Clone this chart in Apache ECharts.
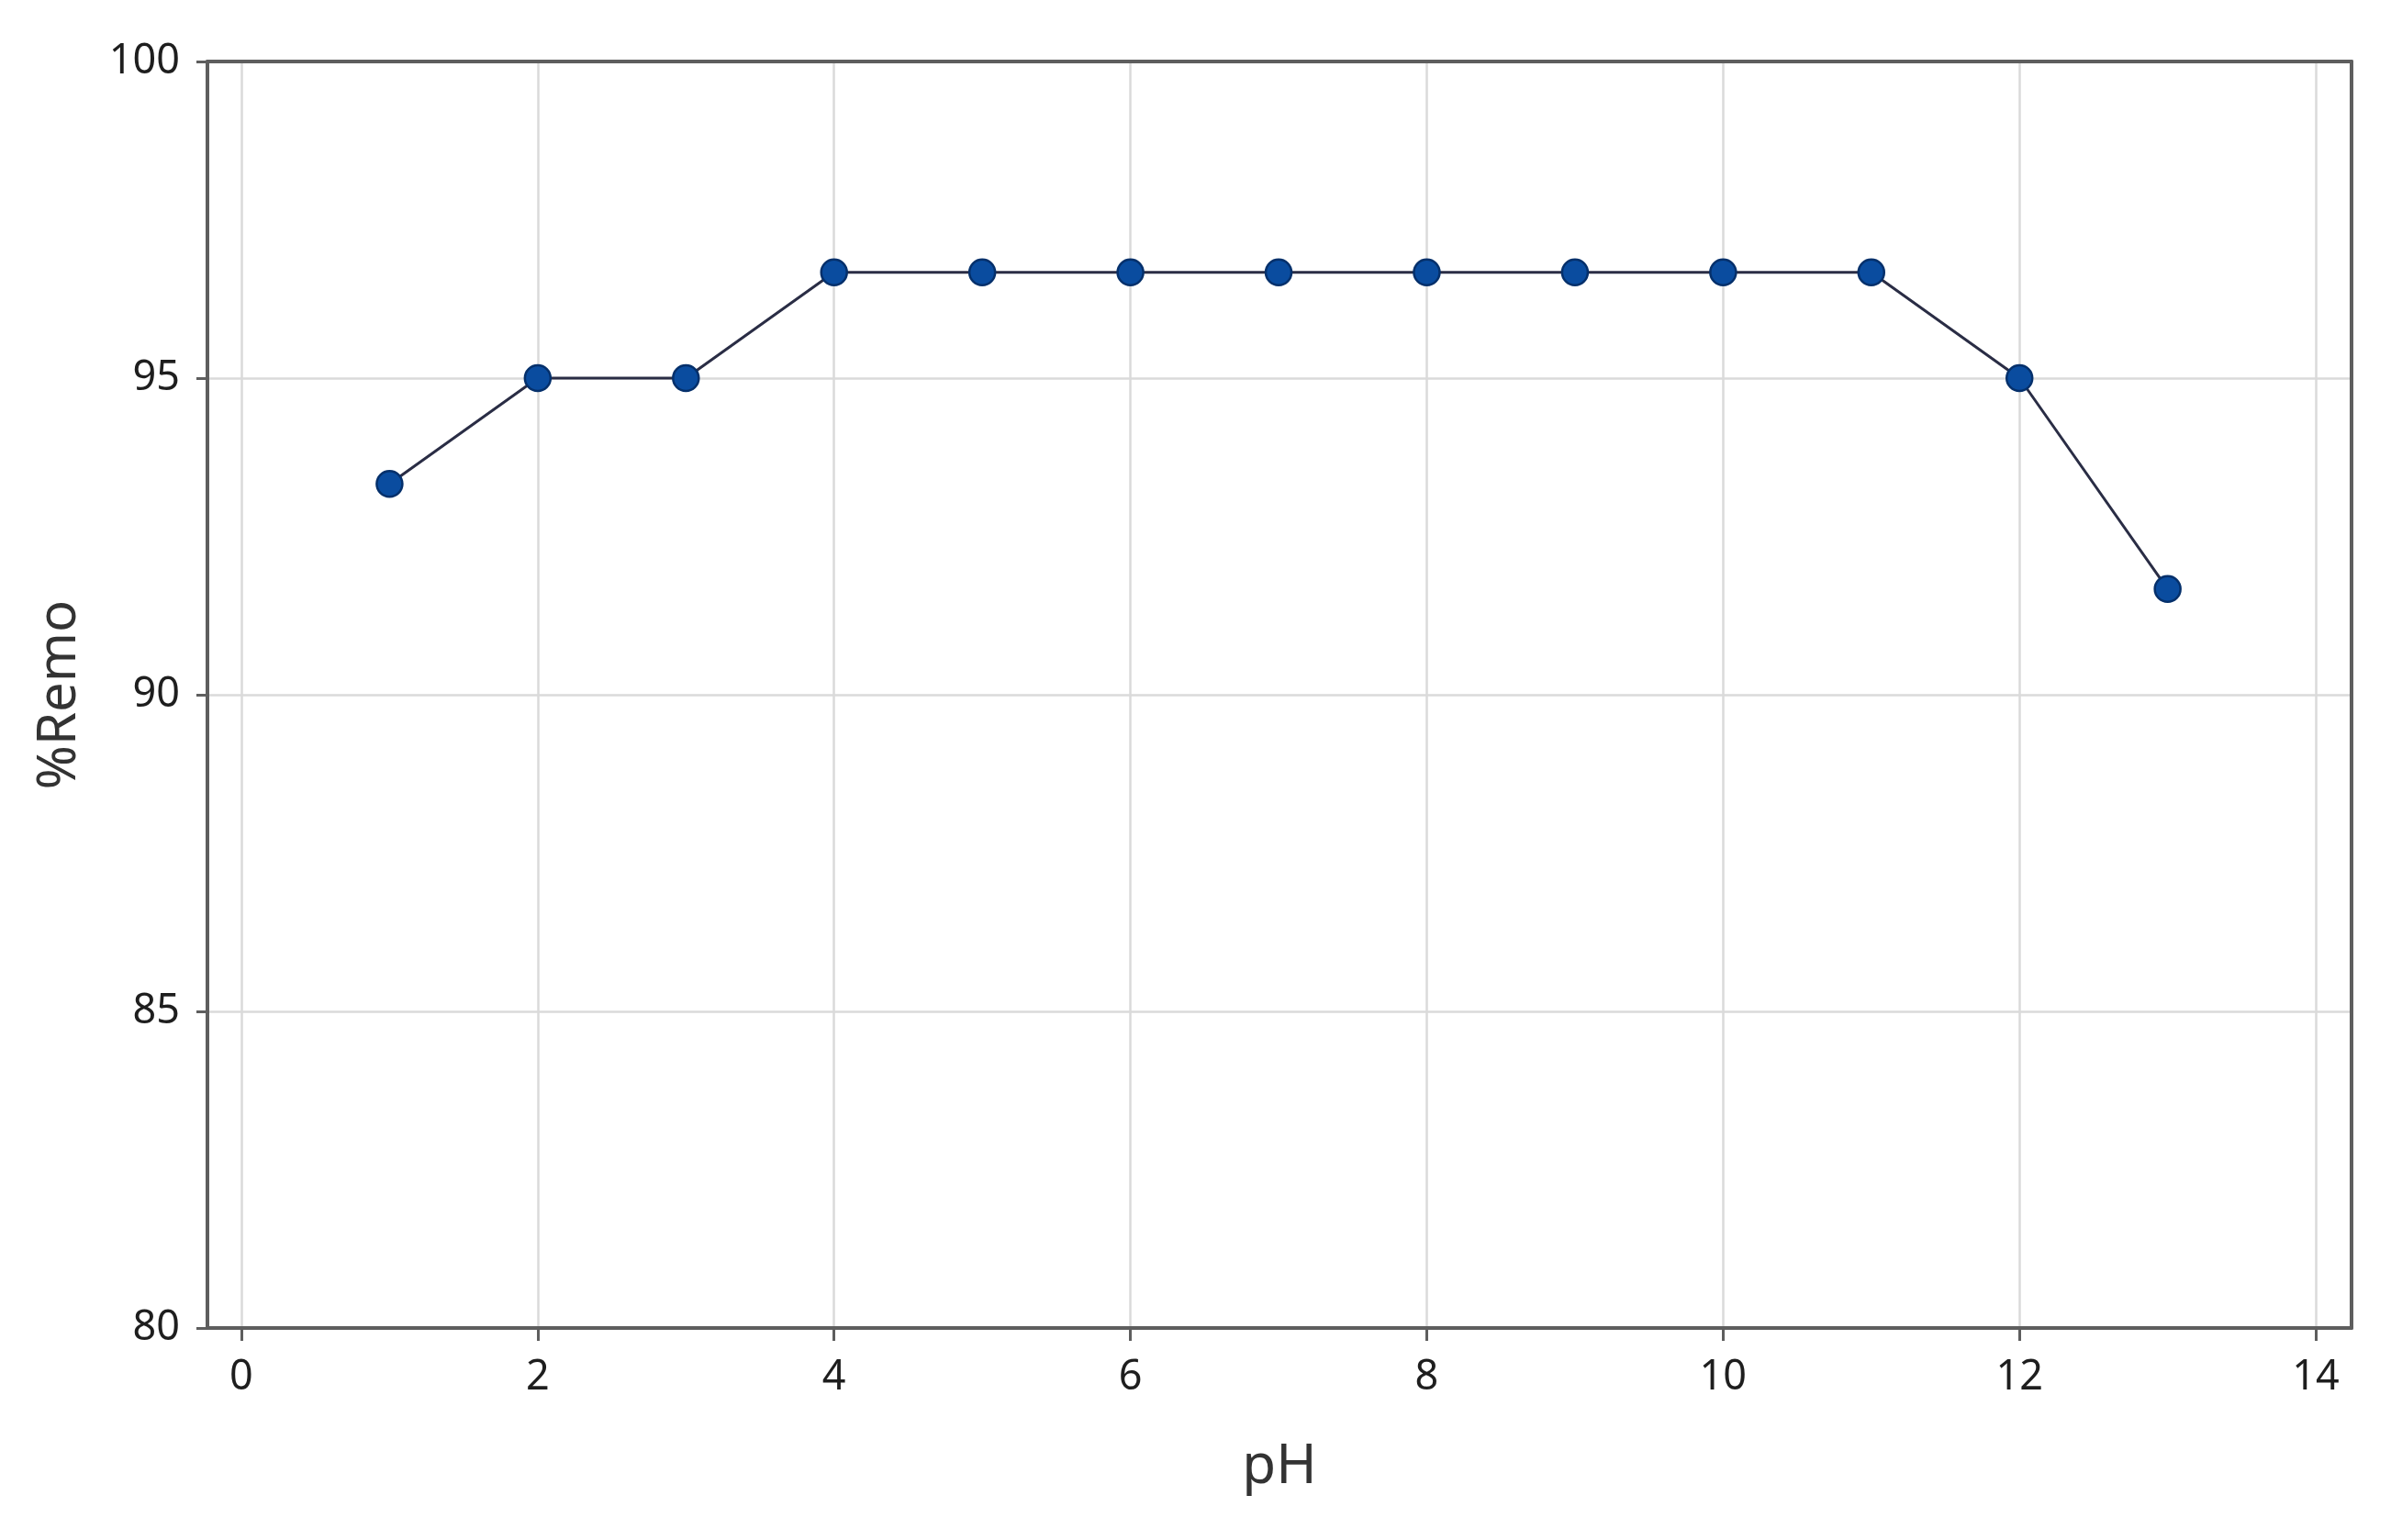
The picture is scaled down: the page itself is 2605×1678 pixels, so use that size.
<!DOCTYPE html>
<html>
<head>
<meta charset="utf-8">
<script src="https://cdn.jsdelivr.net/npm/echarts@6/dist/echarts.min.js"></script>
<style>
html,body{margin:0;padding:0;background:#fff;}
#chart{width:2605px;height:1678px;}
</style>
</head>
<body>
<div id="chart"></div>
<script>
const pH = [1, 2, 3, 4, 5, 6, 7, 8, 9, 10, 11, 12, 13];
const removal = [93.33, 95.0, 95.0, 96.67, 96.67, 96.67, 96.67, 96.67, 96.67, 96.67, 96.67, 95.0, 91.67];
const xTicks = [0, 2, 4, 6, 8, 10, 12, 14];
const yTicks = [80, 85, 90, 95, 100];

const chart = echarts.init(document.getElementById('chart'), null, {renderer: 'canvas'});
const FONT = '"Noto Sans", "Open Sans", sans-serif';
const FRAME = '#5e5e5e';
chart.setOption({
  backgroundColor: '#ffffff',
  animation: false,
  grid: {
    left: 226, right: 43, top: 67, bottom: 231,
    show: false
  },
  xAxis: [{
    type: 'value',
    min: -0.229, max: 14.241,
    name: 'pH',
    nameLocation: 'middle',
    nameGap: 122,
    nameTextStyle: {fontFamily: FONT, fontSize: 60, color: '#333'},
    axisLine: {show: true, onZero: false, lineStyle: {color: FRAME, width: 4}},
    axisTick: {show: true, length: 14, customValues: xTicks, lineStyle: {color: FRAME, width: 3}},
    axisLabel: {customValues: xTicks, margin: 32, fontFamily: FONT, fontSize: 45, color: '#1e1e1e'},
    splitLine: {show: true, lineStyle: {color: '#dadada', width: 2.5}}
  }, {
    type: 'value',
    position: 'top',
    min: -0.229, max: 14.241,
    axisLine: {show: true, onZero: false, lineStyle: {color: FRAME, width: 4}},
    axisTick: {show: false},
    axisLabel: {show: false},
    splitLine: {show: false}
  }],
  yAxis: [{
    type: 'value',
    min: 80, max: 100,
    name: '%Remo',
    nameLocation: 'middle',
    nameGap: 132,
    nameRotate: 90,
    nameTextStyle: {fontFamily: FONT, fontSize: 58, color: '#333'},
    axisLine: {show: true, onZero: false, lineStyle: {color: FRAME, width: 4}},
    axisTick: {show: true, length: 12, customValues: yTicks, lineStyle: {color: FRAME, width: 3}},
    axisLabel: {customValues: yTicks, margin: 30, fontFamily: FONT, fontSize: 45, color: '#1e1e1e'},
    splitLine: {show: true, lineStyle: {color: '#dadada', width: 2.5}}
  }, {
    type: 'value',
    position: 'right',
    min: 80, max: 100,
    axisLine: {show: true, onZero: false, lineStyle: {color: FRAME, width: 4}},
    axisTick: {show: false},
    axisLabel: {show: false},
    splitLine: {show: false}
  }],
  series: [{
    type: 'line',
    xAxisIndex: 0,
    yAxisIndex: 0,
    data: pH.map((x, i) => [x, removal[i]]),
    symbol: 'circle',
    symbolSize: 28,
    showAllSymbol: true,
    lineStyle: {color: '#2a2d45', width: 3},
    itemStyle: {color: '#0a4c9f', borderColor: '#05306b', borderWidth: 2.5},
    z: 5
  }]
});
</script>
</body>
</html>
